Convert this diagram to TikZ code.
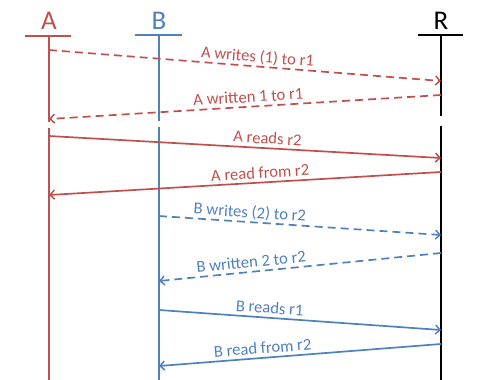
\documentclass[tikz,border=0pt]{standalone}
\usepackage{fontspec}
\setmainfont{Carlito}
\usetikzlibrary{arrows.meta}
\definecolor{cred}{RGB}{192,80,77}
\definecolor{cblue}{RGB}{79,129,189}
\begin{document}
\begin{tikzpicture}[x=1pt,y=-1pt,
  life/.style={line width=1.9pt},
  msg/.style={line width=1.7pt,-{Straight Barb[length=4.5pt,width=9pt,line width=1.5pt]}},
  dsh/.style={dash pattern=on 8pt off 5pt},
  lbl/.style={sloped,above,inner ysep=3.5pt,text depth=0pt,font=\fontsize{16.6}{18}\selectfont},
  head/.style={font=\fontsize{27}{30}\selectfont,anchor=base}]
\useasboundingbox (0,0) rectangle (477,380);
% heads
\node[head,text=cred] (hA) at (49,30) {A};
\node[head,text=cblue] (hB) at (159,30) {B};
\node[head,text=black] (hR) at (441,30) {R};
% lifelines
\draw[life,cred] (25,36) -- (71,36);
\draw[life,cblue] (135,35) -- (182,35);
\draw[life,black] (418,35) -- (463,35);
\coordinate (A0) at (49,36); \coordinate (A1) at (49,122);
\coordinate (A2) at (49,128); \coordinate (A3) at (49,380);
\coordinate (B0) at (159,35); \coordinate (B1) at (159,121);
\coordinate (B2) at (159,127); \coordinate (B3) at (159,380);
\coordinate (R0) at (441,35); \coordinate (R1) at (441,116);
\coordinate (R2) at (441,126); \coordinate (R3) at (441,380);
\draw[life,cred] (A0) -- (A1) (A2) -- (A3);
\draw[life,cblue] (B0) -- (B1) (B2) -- (B3);
\draw[life,black] (R0) -- (R1) (R2) -- (R3);
% message endpoints
\coordinate (a1) at (49,50);  \coordinate (r1) at (441,81);
\coordinate (r2) at (441,95); \coordinate (a2) at (49,119);
\coordinate (a3) at (49,136); \coordinate (r3) at (441,158);
\coordinate (r4) at (441,172); \coordinate (a4) at (49,195);
\coordinate (b5) at (159,216); \coordinate (r5) at (441,235);
\coordinate (r6) at (441,253); \coordinate (b6) at (159,281);
\coordinate (b7) at (159,310); \coordinate (r7) at (441,330);
\coordinate (r8) at (441,344); \coordinate (b8) at (159,366);
% messages
\draw[msg,dsh,cred] (a1) -- node[lbl,pos=0.53] (l1) {A writes (1) to r1} (r1);
\draw[msg,dsh,cred] (r2) -- node[lbl,pos=0.49] (l2) {A written 1 to r1} (a2);
\draw[msg,cred] (a3) -- node[lbl,pos=0.556] (l3) {A reads r2} (r3);
\draw[msg,cred] (r4) -- node[lbl,pos=0.46] (l4) {A read from r2} (a4);
\draw[msg,dsh,cblue] (b5) -- node[lbl,pos=0.32] (l5) {B writes (2) to r2} (r5);
\draw[msg,dsh,cblue] (r6) -- node[lbl,pos=0.67] (l6) {B written 2 to r2} (b6);
\draw[msg,cblue] (b7) -- node[lbl,pos=0.39] (l7) {B reads r1} (r7);
\draw[msg,cblue] (r8) -- node[lbl,pos=0.63] (l8) {B read from r2} (b8);
\end{tikzpicture}
\end{document}
